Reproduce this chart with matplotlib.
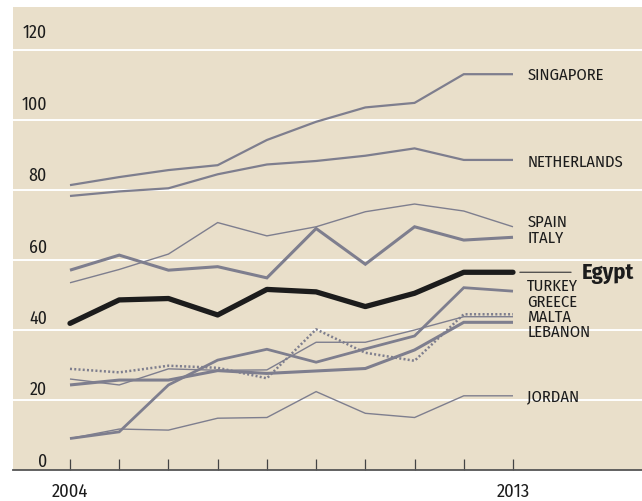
import matplotlib
matplotlib.use("Agg")
import matplotlib.pyplot as plt

years = list(range(2004, 2014))

singapore   = [81.4, 83.7, 85.7, 87.1, 94.3, 99.5, 103.6, 104.9, 113.1, 113.1]
netherlands = [78.3, 79.6, 80.5, 84.5, 87.3, 88.3, 89.8, 91.9, 88.6, 88.6]
spain       = [53.5, 57.3, 61.7, 70.7, 66.9, 69.5, 73.8, 76.0, 74.0, 69.5]
italy       = [57.1, 61.4, 57.1, 58.1, 54.9, 69.0, 58.8, 69.5, 65.7, 66.5]
egypt       = [41.9, 48.6, 49.0, 44.3, 51.6, 50.9, 46.7, 50.5, 56.5, 56.5]
turkey      = [9.0, 10.9, 24.3, 31.4, 34.5, 30.8, 34.6, 38.3, 52.1, 51.1]
greece      = [26.0, 24.3, 28.9, 28.5, 28.6, 36.5, 36.5, 40.0, 43.8, 43.8]
malta       = [28.9, 27.9, 29.8, 29.2, 26.2, 40.2, 33.5, 31.2, 44.5, 44.5]
lebanon     = [24.3, 25.7, 25.7, 28.4, 27.6, 28.3, 29.0, 34.3, 42.2, 42.2]
jordan      = [9.0, 11.7, 11.4, 14.8, 15.0, 22.4, 16.2, 15.0, 21.2, 21.2]

y_ticks = [0, 20, 40, 60, 80, 100, 120]
x_tick_labels = {2004: "2004", 2013: "2013"}

BG = "#E9DFCA"
GREY = "#7E7E8E"
INK = "#1C1C1C"
FONT = ["Fira Sans Condensed", "DejaVu Sans"]

plt.rcParams["font.family"] = FONT

fig = plt.figure(figsize=(6.42, 5.01), dpi=100)
ax = fig.add_axes([13 / 642, 31 / 501, 629 / 642, 463 / 501])
ax.set_facecolor(BG)
ax.set_xlim(2002.842, 2015.621)
ax.set_ylim(0, 132.3)

# white horizontal gridlines
for v in y_ticks[1:]:
    ax.axhline(v, color="white", lw=1.4, zorder=1)

# (values, label, label position, linewidth, style)
series = [
    (singapore,   "SINGAPORE",   113.1, 1.6, "-"),
    (netherlands, "NETHERLANDS", 88.1,  1.6, "-"),
    (spain,       "SPAIN",       71.1,  1.0, "-"),
    (italy,       "ITALY",       66.5,  2.2, "-"),
    (turkey,      "TURKEY",      52.6,  2.0, "-"),
    (greece,      "GREECE",      48.3,  1.0, "-"),
    (malta,       "MALTA",       44.0,  1.8, (0, (0.8, 0.9))),
    (lebanon,     "LEBANON",     39.7,  2.2, "-"),
    (jordan,      "JORDAN",      21.1,  1.0, "-"),
]

for vals, name, ly, lw, ls in series:
    ax.plot(years, vals, color=GREY, lw=lw, ls=ls, zorder=3,
            solid_joinstyle="miter", solid_capstyle="butt")
    ax.annotate(name, xy=(2013, ly), xytext=(10.2, -4.0),
                textcoords="offset points", ha="left", va="baseline",
                fontsize=11.9, color=INK, family=FONT, zorder=5)

ax.plot(years, egypt, color=INK, lw=3.8, zorder=4,
        solid_joinstyle="round", solid_capstyle="round")
ax.annotate("", xy=(2013.14, egypt[-1]), xytext=(2014.18, egypt[-1]),
            arrowprops=dict(arrowstyle="-", color="#444444", lw=0.9,
                            shrinkA=0, shrinkB=0))
ax.annotate("Egypt", xy=(2013, egypt[-1]), xytext=(49.5, -4.8),
            textcoords="offset points", ha="left", va="baseline",
            fontsize=16, fontweight="bold", color=INK, family=FONT)

# y labels sit above their gridlines, inside the plot area
for v in y_ticks:
    ax.text(0.054, v * 1.02 + 2.4, str(v), transform=ax.get_yaxis_transform(),
            ha="right", va="center", fontsize=12.8, color=INK, family=FONT)

ax.set_yticks([])
ax.set_xticks(years)
ax.set_xticklabels([x_tick_labels.get(y, "") for y in years])
ax.tick_params(axis="x", direction="in", length=8, width=0.9, color="#444444",
               pad=9, labelsize=13.3, labelcolor=INK)

for side in ("top", "right", "left"):
    ax.spines[side].set_visible(False)
ax.spines["bottom"].set_color("#555555")
ax.spines["bottom"].set_linewidth(1.3)

fig.savefig("out.png", dpi=100, facecolor="white")
